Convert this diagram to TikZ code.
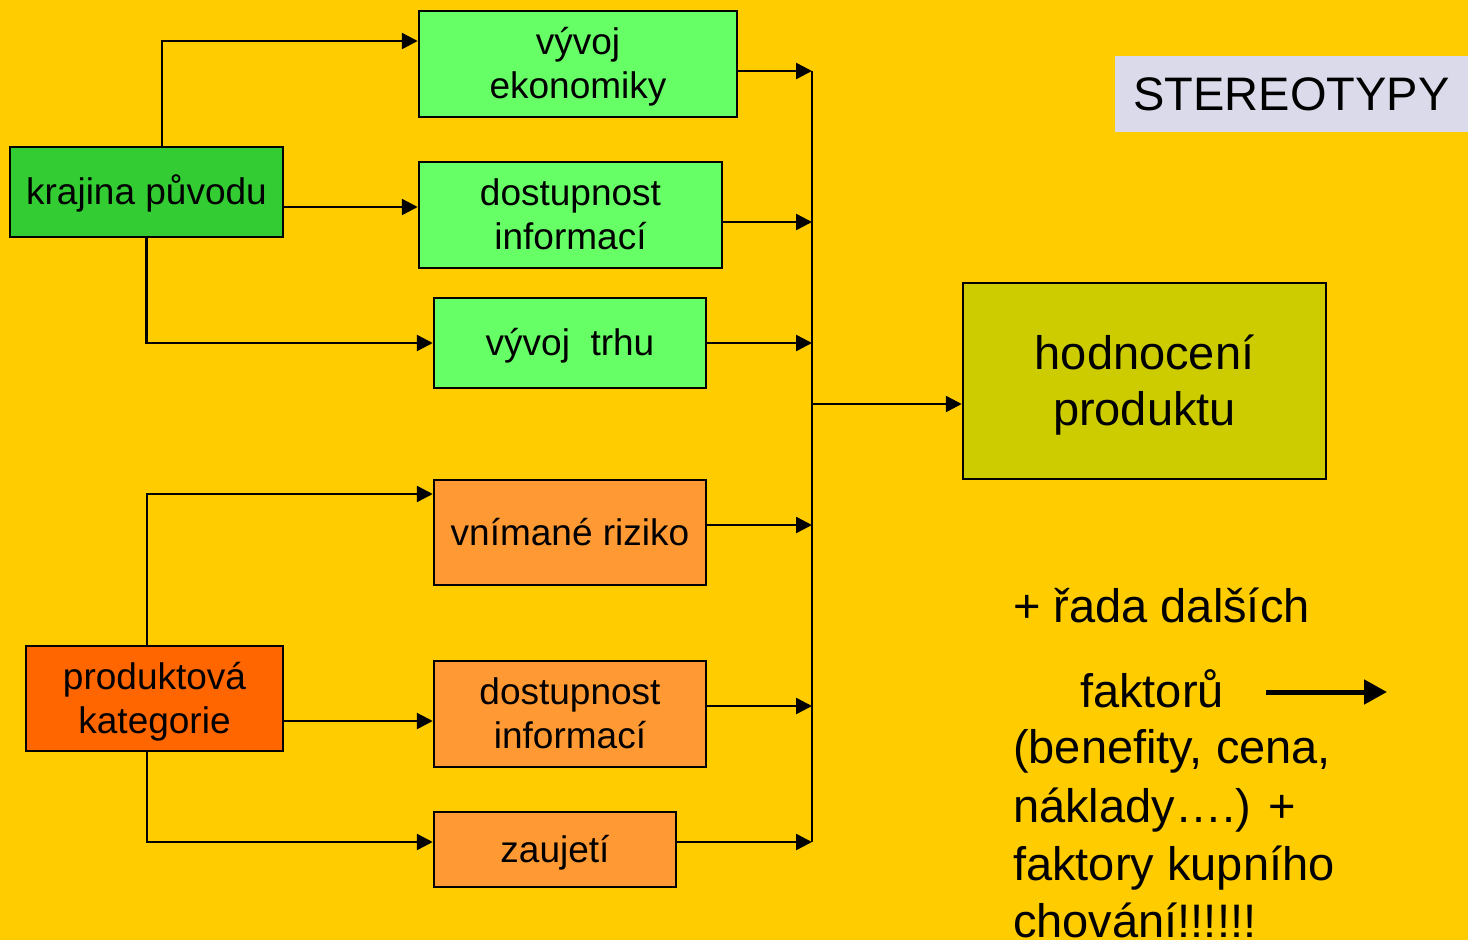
\documentclass[tikz,border=0pt]{standalone}
\usepackage{fontspec}
\setmainfont{Liberation Sans}
\usetikzlibrary{arrows.meta}
\definecolor{bg}{RGB}{255,204,0}
\definecolor{lgreen}{RGB}{102,255,102}
\definecolor{dgreen}{RGB}{51,204,51}
\definecolor{lorange}{RGB}{255,153,51}
\definecolor{dorange}{RGB}{255,102,0}
\definecolor{olive}{RGB}{204,204,0}
\definecolor{lav}{RGB}{218,218,235}
\newcommand\lnstrut{\rule[-0.212em]{0pt}{1.117em}}
\tikzset{
  box/.style={draw=black, line width=2.5pt, inner sep=0pt, align=center,
    font=\fontsize{37}{44}\selectfont},
  bigbox/.style={draw=black, line width=2.5pt, inner sep=0pt, align=center,
    font=\fontsize{47}{56}\selectfont},
  arr/.style={line width=2.5pt, -{Triangle[length=16pt,width=16pt]}},
  bus/.style={line width=2.5pt},
  side/.style={anchor=base west, inner sep=0pt, font=\fontsize{47}{56}\selectfont},
}
\begin{document}
\begin{tikzpicture}[x=1pt,y=-1pt]
\useasboundingbox (0,0) rectangle (1468,940);
\fill[bg] (0,0) rectangle (1468,940);

% left source boxes
\node[box, fill=dgreen, minimum width=273pt, minimum height=90pt] (kp) at (146.5,192) {\lnstrut krajina původu};
\node[box, fill=dorange, minimum width=257pt, minimum height=105pt] (pk) at (154.5,698.5) {\lnstrut produktová\\\lnstrut kategorie};

% middle boxes
\node[box, fill=lgreen, minimum width=318pt, minimum height=106pt] (ve) at (578,64) {\lnstrut vývoj\\\lnstrut ekonomiky};
\node[box, fill=lgreen, minimum width=303pt, minimum height=106pt] (di1) at (570.5,215) {\lnstrut dostupnost\\\lnstrut informací};
\node[box, fill=lgreen, minimum width=272pt, minimum height=90pt] (vt) at (570,343) {\lnstrut vývoj\ \ trhu};
\node[box, fill=lorange, minimum width=272pt, minimum height=105pt] (vr) at (570,532.5) {\lnstrut vnímané riziko};
\node[box, fill=lorange, minimum width=272pt, minimum height=106pt] (di2) at (570,714) {\lnstrut dostupnost\\\lnstrut informací};
\node[box, fill=lorange, minimum width=242pt, minimum height=75pt] (za) at (555,849.5) {\lnstrut zaujetí};

% result box
\node[bigbox, fill=olive, minimum width=363pt, minimum height=196pt] (hp) at (1144.5,381) {\lnstrut hodnocení\\\lnstrut produktu};

% title
\node[fill=lav, inner sep=0pt, minimum width=353pt, minimum height=76pt,
      font=\fontsize{47}{56}\selectfont] (st) at (1291.5,94) {\lnstrut STEREOTYPY};

% bus
\coordinate (bt) at (812,71);
\coordinate (bb) at (812,842);
\coordinate (bm) at (812,404);
\draw[bus] (bt) -- (bb);

% from krajina původu
\draw[arr] ([xshift=15.5pt]kp.north) |- ([yshift=23pt]ve.west);
\draw[arr] ([yshift=-15pt]kp.east) -- ([yshift=-15pt]kp.east -| di1.west);
\draw[arr] (kp.south) |- (vt.west);

% from produktová kategorie
\draw[arr] ([xshift=-7.5pt]pk.north) |- ([yshift=38.5pt]vr.west);
\draw[arr] ([yshift=-22.5pt]pk.east) -- ([yshift=-22.5pt]pk.east -| di2.west);
\draw[arr] ([xshift=-7.5pt]pk.south) |- ([yshift=7.5pt]za.west);

% into bus
\draw[arr] ([yshift=-7pt]ve.east) -- ([yshift=-7pt]ve.east -| bt);
\draw[arr] ([yshift=-7pt]di1.east) -- ([yshift=-7pt]di1.east -| bt);
\draw[arr] (vt.east) -- (vt.east -| bt);
\draw[arr] ([yshift=7.5pt]vr.east) -- ([yshift=7.5pt]vr.east -| bt);
\draw[arr] ([yshift=8pt]di2.east) -- ([yshift=8pt]di2.east -| bt);
\draw[arr] ([yshift=7.5pt]za.east) -- ([yshift=7.5pt]za.east -| bt);

% bus to result
\draw[arr] (bm) -- (bm -| hp.west);

% side text
\node[side] (t1) at (1013,622) {+ řada dalších};
\node[side] (t2) at (1080,707) {faktorů};
\node[side] (t3) at (1013,763) {(benefity, cena,};
\node[side] (t4) at (1013,822) {náklady….) +};
\node[side] (t5) at (1013,880) {faktory kupního};
\node[side] (t6) at (1013,937) {chování!!!!!!};
\coordinate (fa1) at (1266,692);
\coordinate (fa2) at (1387,692);
\draw[line width=5pt, -{Triangle[length=23pt,width=24pt]}] (fa1) -- (fa2);
\end{tikzpicture}
\end{document}
